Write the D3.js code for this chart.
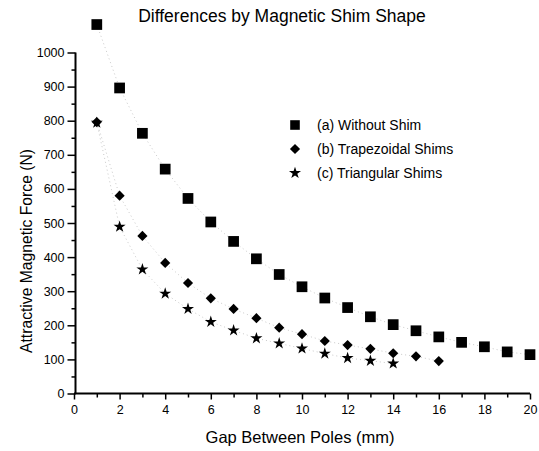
<!DOCTYPE html>
<html>
<head>
<meta charset="utf-8">
<script src="https://cdn.jsdelivr.net/npm/d3@7"></script>
<style>
  html, body { margin: 0; padding: 0; background: #fff; }
  svg { display: block; font-family: "Liberation Sans", Arial, Helvetica, sans-serif; }
</style>
</head>
<body>
<svg id="chart" width="539" height="451"></svg>
<script>
const title = "Differences by Magnetic Shim Shape";
const xLabel = "Gap Between Poles (mm)";
const yLabel = "Attractive Magnetic Force (N)";
const seriesNames = ["(a) Without Shim", "(b) Trapezoidal Shims", "(c) Triangular Shims"];
const gapA = [1,2,3,4,5,6,7,8,9,10,11,12,13,14,15,16,17,18,19,20];
const forceA = [1082,896,763,658,572,503,446,395,349,313,280,252,225,202,184,166,150,137,122,114];
const gapB = [1,2,3,4,5,6,7,8,9,10,11,12,13,14,15,16];
const forceB = [796,580,462,383,324,279,248,221,193,174,154,142,131,118,109,95];
const gapC = [1,2,3,4,5,6,7,8,9,10,11,12,13,14];
const forceC = [794,489,364,293,248,210,185,162,147,132,117,104,96,88];
const xTicks = [0,2,4,6,8,10,12,14,16,18,20];
const yTicks = [0,100,200,300,400,500,600,700,800,900,1000];

const svg = d3.select("#chart");
const x = d3.scaleLinear().domain([0, 20]).range([74, 530]);
const y = d3.scaleLinear().domain([0, 1000]).range([393.5, 52.5]);

const series = [
  {gx: gapA, fy: forceA, sym: d3.symbolSquare, size: 115, rot: 0},
  {gx: gapB, fy: forceB, sym: d3.symbolSquare, size: 52, rot: 45},
  {gx: gapC, fy: forceC, sym: d3.symbolStar, size: 45, rot: 0}
];
const line = d3.line().x(d => x(d[0])).y(d => y(d[1]));
series.forEach(s => {
  const pts = s.gx.map((g, i) => [g, s.fy[i]]);
  svg.append("path").attr("d", line(pts)).attr("fill", "none")
    .attr("stroke", "#bbb").attr("stroke-width", 0.8).attr("stroke-dasharray", "1,3");
});

// axes
const xAxis = d3.axisBottom(x).tickValues(xTicks).tickSize(6).tickPadding(6).tickFormat(d3.format("d"));
const gx = svg.append("g").attr("transform", "translate(0,393.5)").call(xAxis);
gx.selectAll(".tick text").attr("font-size", 12.5).attr("fill", "#000");
gx.select(".domain").attr("stroke-width", 2).attr("d", `M${x(0)},0H${x(20)}`);
gx.selectAll(".tick line").attr("stroke-width", 1.5);
const gxm = svg.append("g").attr("transform", "translate(0,393.5)")
  .call(d3.axisBottom(x).tickValues(d3.range(1, 20, 2)).tickSize(4).tickFormat(""));
gxm.select(".domain").remove();
gxm.selectAll(".tick line").attr("stroke-width", 1.5);

const yAxis = d3.axisLeft(y).tickValues(yTicks).tickSize(8).tickPadding(3).tickFormat(d3.format("d"));
const gy = svg.append("g").attr("transform", "translate(75.5,0)").call(yAxis);
gy.selectAll(".tick text").attr("font-size", 12.5).attr("fill", "#000");
gy.select(".domain").attr("stroke-width", 2).attr("d", `M0,${y(1000)}V${y(0)}`);
gy.selectAll(".tick line").attr("stroke-width", 1.5);
const gym = svg.append("g").attr("transform", "translate(75.5,0)")
  .call(d3.axisLeft(y).tickValues(d3.range(50, 1000, 100)).tickSize(4).tickFormat(""));
gym.select(".domain").remove();
gym.selectAll(".tick line").attr("stroke-width", 1.5);

// markers
series.forEach(s => {
  svg.append("g").selectAll("path").data(s.gx.map((g, i) => [g, s.fy[i]])).join("path")
    .attr("transform", d => `translate(${x(d[0])},${y(d[1])}) rotate(${s.rot})`)
    .attr("d", d3.symbol().type(s.sym).size(s.size))
    .attr("fill", "#000");
});

// legend
const legY = [125, 149, 173];
series.forEach((s, i) => {
  svg.append("path").attr("transform", `translate(295,${legY[i]}) rotate(${s.rot})`)
    .attr("d", d3.symbol().type(s.sym).size(s.size * (i === 0 ? 0.8 : 1))).attr("fill", "#000");
  svg.append("text").attr("x", 317).attr("y", legY[i] + 5).attr("font-size", 14)
    .text(seriesNames[i]);
});

// titles
svg.append("text").attr("x", 282).attr("y", 22).attr("text-anchor", "middle")
  .attr("font-size", 17.5).text(title);
svg.append("text").attr("x", 300).attr("y", 443).attr("text-anchor", "middle")
  .attr("font-size", 16.5).text(xLabel);
svg.append("text").attr("transform", "translate(32,251) rotate(-90)")
  .attr("text-anchor", "middle").attr("font-size", 15.7).text(yLabel);
</script>
</body>
</html>
